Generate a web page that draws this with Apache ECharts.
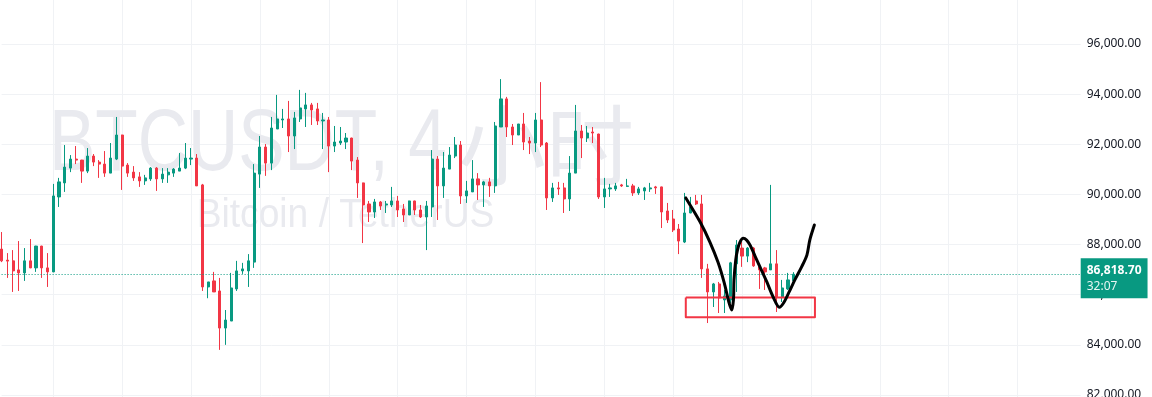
<!DOCTYPE html>
<html>
<head>
<meta charset="utf-8">
<script src="https://cdn.jsdelivr.net/npm/echarts@6/dist/echarts.min.js"></script>
<style>
  html, body { margin: 0; padding: 0; background: #fff; }
  #main { width: 1152px; height: 397px; }
</style>
</head>
<body>
<div id="main"></div>
<script>
// BTCUSDT 4h candles
var opens = [87820,87380,87350,86990,86870,87350,87070,87940,87070,86910,
  89900,90460,91050,91410,91370,90930,91530,91290,91210,90850,
  91410,92370,91170,90890,90700,90540,90620,91050,90620,90780,
  90850,90930,91050,91410,91450,90380,86310,86550,86150,84670,
  84950,86230,86950,86950,87300,90810,91890,91250,92610,92970,
  93010,92330,93010,93410,93570,93410,92930,92970,91930,92050,
  92090,92250,91370,90460,89620,89300,89700,89580,89580,89740,
  89420,89180,89740,89380,89100,89500,91410,90340,91010,91530,
  91970,89940,90100,90620,90380,90500,90340,92690,93810,92690,
  92370,92810,92130,92050,92970,92050,89860,90260,90260,89820,
  90850,92530,92250,92490,92410,89900,90220,90220,90380,90320,
  90340,90060,90140,90220,90300,90300,89340,89020,88620,88100,
  89260,89740,89620,87030,86110,86430,85790,85790,87230,87860,
  87540,87860,87110,87070,86990,87230,85910,86230,86550];
var closes = [87350,87340,86950,86870,87350,87070,87940,87070,86910,89940,
  90500,91090,91410,91370,90930,91530,91290,91210,90850,91450,
  92370,91130,90850,90660,90540,90660,91050,90620,90810,90890,
  91010,91050,91450,91450,90340,86310,86510,86110,84670,84990,
  86270,86950,87030,87350,90850,91890,91250,92650,93010,93010,
  92330,93050,93450,93570,93370,92930,92970,91930,92090,92130,
  92250,91330,90460,89580,89300,89700,89540,89620,89740,89380,
  89180,89740,89380,89100,89540,91410,90340,91050,91570,91970,
  89940,90140,90620,90380,90500,90340,92730,93810,92690,92370,
  92810,92090,92050,92970,91970,89860,90260,90220,89820,90850,
  92530,92250,92450,92450,89900,90220,90260,90340,90340,90340,
  90060,90220,90260,90260,90260,89300,88980,88580,88140,89260,
  89500,89620,87030,86110,86430,85870,85950,87270,87980,87540,
  87860,87150,86990,86910,87230,85910,86270,86590,86818.7];
var lows = [87300,86670,86110,86150,86550,87060,86910,86670,86310,86900,
  89500,90100,90890,91210,90460,90850,91130,90660,90700,90850,
  91370,90180,90700,90540,90300,90380,90540,90140,90460,90460,
  90700,90930,91010,91170,90340,86150,85860,86110,83800,84000,
  84950,86150,86830,86310,87070,90260,90740,90970,92610,92650,
  91690,91810,92890,92690,92770,92770,91810,90890,91690,91970,
  91810,90970,89860,88060,88900,89060,89380,89260,89500,89100,
  88900,89180,89180,89060,87780,89100,88980,89860,91010,91450,
  89620,89660,90100,89780,89500,89900,90060,92690,92290,91970,
  92370,91770,91610,91690,91890,89380,89700,89980,89260,89340,
  90850,91450,92090,92050,89820,89460,89900,90140,90300,90300,
  89940,89980,89780,90100,90020,88660,88860,88500,87620,88060,
  89250,89580,86670,84870,85510,85270,85270,85670,86110,87110,
  87300,87110,86230,86190,86990,85310,85710,86190,86390];
var highs = [88500,87660,87780,88140,87860,88220,87950,87950,87660,90420,
  90660,91970,91570,91930,91380,91850,91610,91370,91730,92050,
  93090,92380,91250,91130,90890,90780,91090,91090,91050,91050,
  91050,91650,92050,91850,91610,90420,86510,86910,86670,85390,
  86870,87350,87270,87620,91210,92330,92010,93090,93970,93410,
  93730,93290,94170,94050,93650,93650,93250,93090,92730,92690,
  92450,92260,91490,90470,89740,89820,89740,89740,90300,89940,
  89620,89750,89750,89580,89740,91770,91530,91690,91890,92290,
  92130,90540,91370,90850,90540,90660,92890,94600,93890,92810,
  92810,93250,92290,93250,94480,92090,90460,90500,90460,91530,
  93570,92770,92730,92690,92420,90660,90420,90460,90420,90620,
  90420,90300,90300,90460,90340,90310,89660,89380,88820,90060,
  89900,89980,89980,87230,86470,86510,86190,87310,88180,88100,
  87900,87900,87230,87110,90380,87780,86590,86870,86900];

var lastPrice = 86818.7;
var countdown = '32:07';
var slotCount = 189;   // candles plus empty space to the right
var priceTicks = [82000, 84000, 86000, 88000, 90000, 92000, 94000, 96000];

// hand drawn annotations (bar index, price)
var penX = [119.2,121.7,123.4,124.8,125.9,126.7,127.2,127.5,127.6,127.9,128.2,128.6,129.2,129.8,
  130.4,131.3,132.1,133.3,134.4,135.5,136.2,137.1,138.2,139.4,140.3,140.8,141.6];
var penY = [89860,88900,88100,87300,86470,85710,85390,85790,86590,87390,87780,88080,88250,88180,
  87980,87520,87120,86520,85920,85500,85660,86060,86590,87120,87580,88180,88780];
var boxX = [119.2, 141.7, 141.7, 119.2, 119.2];
var boxY = [85890, 85890, 85100, 85100, 85890];

var cats = [];
for (var i = 0; i < slotCount; i++) cats.push(String(i));

var candles = opens.map(function (o, i) {
    return [o, closes[i], lows[i], highs[i]];
});
var pen = penX.map(function (x, i) { return [x, penY[i]]; });
var box = boxX.map(function (x, i) { return [x, boxY[i]]; });

var myChart = echarts.init(document.getElementById('main'));

var gridColor = '#f0f2f5';
var up = '#089981', down = '#f23645';
var wmColor = '#e9eaef';

option = {
    animation: false,
    grid: { left: 1.6, right: 71.3, top: 0, bottom: 0, containLabel: false, outerBoundsMode: 'none' },
    graphic: [
        { type: 'text', x: 49, y: 146, z: 1, silent: true, scaleX: 0.79,
          style: { text: 'BTCUSDT, 4', fill: wmColor, font: '88px "Liberation Sans", sans-serif', verticalAlign: 'middle' } },
        { type: 'text', x: 458, y: 145, z: 1, silent: true,
          style: { text: '小时', fill: wmColor, font: '88px "Noto Sans CJK SC", sans-serif', verticalAlign: 'middle' } },
        { type: 'text', x: 345.5, y: 216, z: 1, silent: true, scaleX: 0.93,
          style: { text: 'Bitcoin / TetherUS', fill: wmColor, font: '40px "Liberation Sans", sans-serif', align: 'center', verticalAlign: 'middle' } }
    ],
    xAxis: [{
        type: 'category',
        data: cats,
        boundaryGap: false,
        axisLine: { show: false },
        axisTick: { show: false },
        axisLabel: { show: false },
        splitLine: {
            show: true,
            interval: function (idx) { return idx % 12 === 9; },
            lineStyle: { color: gridColor, width: 1 }
        }
    }, {
        type: 'value',
        min: 0,
        max: slotCount - 1,
        show: false
    }],
    yAxis: {
        type: 'value',
        position: 'right',
        min: 81920,
        max: 97755,
        axisLine: { show: false },
        axisTick: { show: false, customValues: priceTicks },
        axisLabel: {
            customValues: priceTicks,
            margin: 6,
            color: '#131722',
            fontSize: 12,
            fontFamily: '"Noto Sans", sans-serif',
            formatter: function (v) {
                return v.toLocaleString('en-US', { minimumFractionDigits: 2, maximumFractionDigits: 2 });
            }
        },
        splitLine: { show: true, lineStyle: { color: gridColor, width: 1 } }
    },
    series: [{
        type: 'candlestick',
        data: candles,
        barWidth: 2.6,
        clip: false,
        itemStyle: {
            color: up, color0: down,
            borderColor: up, borderColor0: down,
            borderWidth: 1
        },
        markLine: {
            silent: true,
            symbol: 'none',
            data: [{ yAxis: lastPrice }],
            lineStyle: { color: up, type: [1, 2], width: 1 },
            label: {
                show: true,
                position: 'end',
                distance: 0,
                offset: [0, 4],
                formatter: '{p|86,818.70}\n{t|' + countdown + '}',
                backgroundColor: up,
                padding: [4, 6, 4, 6],
                align: 'left',
                rich: {
                    p: { color: '#fff', fontSize: 12, fontWeight: 'bold', lineHeight: 16, fontFamily: '"Noto Sans", sans-serif' },
                    t: { color: 'rgba(255,255,255,0.9)', fontSize: 12, lineHeight: 16, fontFamily: '"Noto Sans", sans-serif' }
                }
            }
        }
    }, {
        type: 'line',
        xAxisIndex: 1,
        data: box,
        symbol: 'none',
        silent: true,
        z: 5,
        lineStyle: { color: down, width: 2, join: 'round' }
    }, {
        type: 'line',
        xAxisIndex: 1,
        data: pen,
        symbol: 'none',
        silent: true,
        smooth: 0.3,
        z: 6,
        lineStyle: { color: '#000', width: 3, cap: 'round', join: 'round' }
    }]
};

myChart.setOption(option);
</script>
</body>
</html>
